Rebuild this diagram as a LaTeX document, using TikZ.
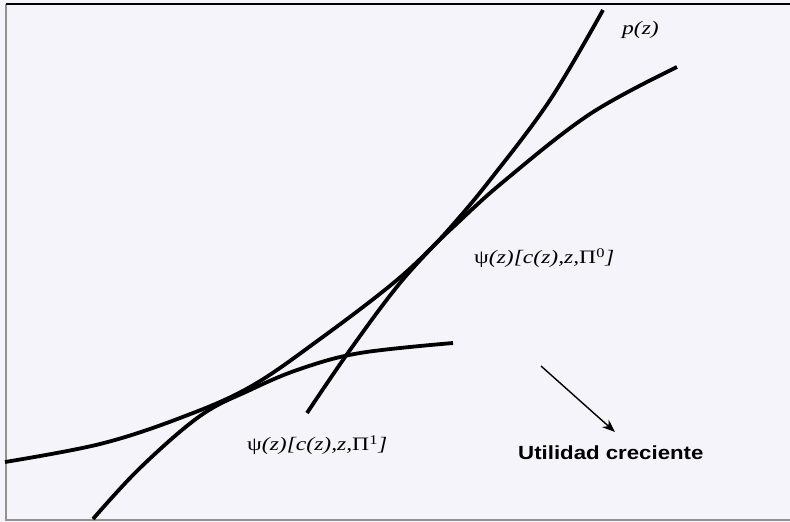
\documentclass[tikz,border=0pt]{standalone}
\usepackage{fontspec}
\setmainfont{Liberation Serif}
\newfontfamily\arialfont{Liberation Sans}
\usetikzlibrary{arrows.meta}
\definecolor{paper}{RGB}{245,244,250}
\definecolor{frame}{RGB}{150,145,145}
\tikzset{>=Stealth}
\tikzset{curve/.style={line width=3.8pt},
  lbl/.style={inner sep=0pt, anchor=west, font=\fontsize{19}{21}\selectfont}}
\newcommand{\wide}[1]{\scalebox{1.24}[1]{#1}}

\begin{document}
\begin{tikzpicture}[x=1pt, y=-1pt]
\useasboundingbox (0,0) rectangle (790,522);
\fill[paper] (0,0) rectangle (790,522);
\draw[frame, line width=2.5pt] (6,4) -- (6,520) -- (790,520);
\draw[black, line width=2.5pt] (6,4) -- (790,4);
% bid curves and price curve
\draw[curve] plot[smooth, tension=0.6] coordinates {(5,462) (100,444) (180,418) (250,387) (320,339) (397,280) (450,230) (503,182) (590,114) (677,67)};
\draw[curve] plot[smooth, tension=0.6] coordinates {(93,519) (140,468) (200,416) (250,390) (300,369) (360,353) (453,343)};
\draw[curve] plot[smooth, tension=0.6] coordinates {(307,413) (350,350) (400,283) (450,228) (490,180) (550,100) (603,10)};
% labels
\node[lbl] (pz) at (622,30) {\wide{\textit{p(z)}}};
\node[lbl] (psi0) at (474,258) {\wide{ψ\textit{(z)[c(z),z,}Π\textsuperscript{0}\textit{]}}};
\node[lbl] (psi1) at (247,445) {\wide{ψ\textit{(z)[c(z),z,}Π\textsuperscript{1}\textit{]}}};
\node[inner sep=0pt, anchor=west, font=\arialfont\bfseries\fontsize{19}{21}\selectfont] (util) at (518,453) {\scalebox{1.17}[1]{Utilidad creciente}};
\coordinate (a1) at (541,366);
\coordinate (a2) at (615,432);
\draw[->, line width=1.4pt, arrows={-Stealth[length=13pt,width=10pt]}] (a1) -- (a2);
\end{tikzpicture}
\end{document}
